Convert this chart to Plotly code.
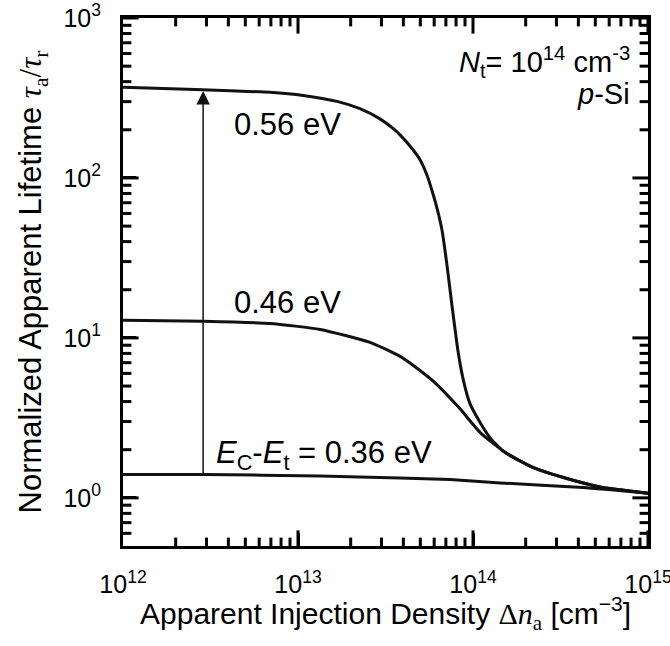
import plotly.graph_objects as go
import numpy as np

# Apparent injection density [cm^-3] and normalized apparent lifetime for each trap level
dn_056 = [1.0e12, 2.87e12, 6.92e12, 1.07e13, 1.67e13, 2.26e13, 2.94e13, 3.49e13, 3.83e13,
          4.54e13, 4.98e13, 5.46e13, 5.91e13, 6.31e13, 6.65e13, 7.10e13, 7.58e13, 8.20e13,
          8.77e13, 9.61e13, 1.10e14, 1.25e14, 1.48e14, 2.20e14, 3.44e14, 5.32e14, 1.0e15]
tau_056 = [369, 356, 343, 328, 301, 271, 234, 204, 186,
           150, 130, 104, 79.4, 61.2, 47.2, 28.5, 16.0, 8.35,
           5.57, 3.88, 2.95, 2.38, 1.97, 1.55, 1.32, 1.17, 1.07]

dn_046 = [1.0e12, 2.87e12, 6.92e12, 1.34e13, 2.58e13, 3.83e13, 4.98e13, 6.22e13, 8.43e13,
          1.10e14, 1.56e14, 2.20e14, 3.44e14, 5.32e14, 1.0e15]
tau_046 = [12.9, 12.7, 12.3, 11.3, 9.38, 7.66, 6.25, 5.11, 3.60,
           2.56, 1.89, 1.55, 1.32, 1.17, 1.07]

dn_036 = [1.0e12, 2.87e12, 1.34e13, 3.83e13, 7.4e13, 1.43e14, 4.25e14, 1.0e15]
tau_036 = [1.40, 1.40, 1.37, 1.33, 1.30, 1.24, 1.16, 1.07]

# Arrow between the 0.36 eV and 0.56 eV plateaus
arrow_dn = 2.87e12
arrow_from = 1.40
arrow_to = 350

x_ticks = [1e12, 1e13, 1e14, 1e15]
x_ticktext = ["10<sup>12</sup>", "10<sup>13</sup>", "10<sup>14</sup>", "10<sup>15</sup>"]
y_ticks = [1, 10, 100, 1000]
y_ticktext = ["10<sup>0</sup>", "10<sup>1</sup>", "10<sup>2</sup>", "10<sup>3</sup>"]

x_minor = [m * 10.0 ** e for e in range(12, 15) for m in range(2, 10)]
y_minor = [m * 10.0 ** e for e in range(-1, 3) for m in range(2, 10) if m * 10.0 ** e > 0.5]

X_RANGE = [12, 15]
Y_RANGE = [np.log10(0.5), 3]

FONT = "Liberation Sans, Arial, Helvetica, sans-serif"
SERIF = "font-family:'Liberation Serif','DejaVu Serif',serif"

WIDTH, HEIGHT = 670, 646
MARGIN = dict(l=123, r=22, t=18, b=100)
PLOT_W = WIDTH - MARGIN["l"] - MARGIN["r"]
PLOT_H = HEIGHT - MARGIN["t"] - MARGIN["b"]
MAJOR_LEN, MINOR_LEN = 13, 7  # tick lengths in pixels

fig = go.Figure()
for dn, tau in [(dn_056, tau_056), (dn_046, tau_046), (dn_036, tau_036)]:
    fig.add_trace(go.Scatter(
        x=dn, y=tau, mode="lines",
        line=dict(color="#111111", width=3, shape="spline", smoothing=0.5),
        showlegend=False, hoverinfo="skip",
    ))

# Inward tick marks on all four frame sides, drawn as short line markers
# centred half a tick length inside the frame.
dec_per_px_x = (X_RANGE[1] - X_RANGE[0]) / PLOT_W
dec_per_px_y = (Y_RANGE[1] - Y_RANGE[0]) / PLOT_H
x_lo, x_hi = 10 ** X_RANGE[0], 10 ** X_RANGE[1]
y_lo, y_hi = 10 ** Y_RANGE[0], 10 ** Y_RANGE[1]

for vals, length in [(x_ticks, MAJOR_LEN), (x_minor, MINOR_LEN)]:
    f = 10 ** (0.5 * length * dec_per_px_y)
    fig.add_trace(go.Scatter(
        x=list(vals) + list(vals),
        y=[y_lo * f] * len(vals) + [y_hi / f] * len(vals),
        mode="markers", cliponaxis=False,
        marker=dict(symbol="line-ns", size=length,
                    line=dict(color="black", width=3), color="black"),
        showlegend=False, hoverinfo="skip",
    ))
for vals, length in [(y_ticks, MAJOR_LEN), (y_minor, MINOR_LEN)]:
    f = 10 ** (0.5 * length * dec_per_px_x)
    fig.add_trace(go.Scatter(
        x=[x_lo * f] * len(vals) + [x_hi / f] * len(vals),
        y=list(vals) + list(vals),
        mode="markers", cliponaxis=False,
        marker=dict(symbol="line-ew", size=length,
                    line=dict(color="black", width=3), color="black"),
        showlegend=False, hoverinfo="skip",
    ))

frame = dict(showline=True, linewidth=3, linecolor="black", mirror=True,
             showgrid=False, zeroline=False, automargin=False,
             ticks="inside", ticklen=MAJOR_LEN, tickwidth=3, tickcolor="black")

fig.update_layout(
    xaxis=dict(
        type="log", range=X_RANGE,
        tickmode="array", tickvals=x_ticks, ticktext=x_ticktext,
        tickfont=dict(family=FONT, size=25, color="black"),
        ticklabelstandoff=14, ticklabeloverflow="allow",
        **frame,
    ),
    yaxis=dict(
        type="log", range=Y_RANGE,
        tickmode="array", tickvals=y_ticks, ticktext=y_ticktext,
        tickfont=dict(family=FONT, size=25, color="black"),
        ticklabelstandoff=14,
        title=dict(
            text=("Normalized Apparent Lifetime "
                  f"<span style=\"{SERIF}\"><i>τ</i><sub>a</sub>/<i>τ</i><sub>r</sub></span>"),
            font=dict(family=FONT, size=31, color="black"), standoff=13,
        ),
        **frame,
    ),
)

# x-axis title
fig.add_annotation(
    xref="paper", yref="paper", x=0.5, y=-0.128, xanchor="center", yanchor="middle",
    text=("Apparent Injection Density "
          f"<span style=\"{SERIF}\">Δ<i>n</i><sub>a</sub></span>"
          " [cm<sup>−3</sup>]"),
    showarrow=False, font=dict(family=FONT, size=30, color="black"),
)

label_font = dict(family=FONT, size=31, color="black")
annotations = [
    dict(x=12.623, y=np.log10(216), text="0.56 eV", xanchor="left", yanchor="middle"),
    dict(x=12.623, y=np.log10(16.7), text="0.46 eV", xanchor="left", yanchor="middle"),
    dict(x=12.52, y=np.log10(1.86),
         text="<i>E</i><sub>C</sub>-<i>E</i><sub>t</sub> = 0.36 eV",
         xanchor="left", yanchor="middle"),
]
for a in annotations:
    fig.add_annotation(xref="x", yref="y", showarrow=False, font=label_font, **a)

corner_font = dict(family=FONT, size=29, color="black")
fig.add_annotation(xref="paper", yref="paper", x=0.97, y=0.917,
                   text="<i>N</i><sub>t</sub>= 10<sup>14</sup> cm<sup>-3</sup>",
                   showarrow=False, xanchor="right", yanchor="middle", font=corner_font)
fig.add_annotation(xref="paper", yref="paper", x=0.97, y=0.856,
                   text="<i>p</i>-Si",
                   showarrow=False, xanchor="right", yanchor="middle", font=corner_font)

fig.add_annotation(
    xref="x", yref="y", axref="x", ayref="y",
    x=np.log10(arrow_dn), y=np.log10(arrow_to),
    ax=np.log10(arrow_dn), ay=np.log10(arrow_from),
    text="", showarrow=True, arrowhead=2, arrowsize=1.8, arrowwidth=1.5,
    arrowcolor="#111111", standoff=0, startstandoff=0,
)

fig.update_layout(
    width=WIDTH, height=HEIGHT,
    margin=MARGIN,
    paper_bgcolor="white", plot_bgcolor="white",
    font=dict(family=FONT, color="black"),
)

fig.write_html("out.html")
